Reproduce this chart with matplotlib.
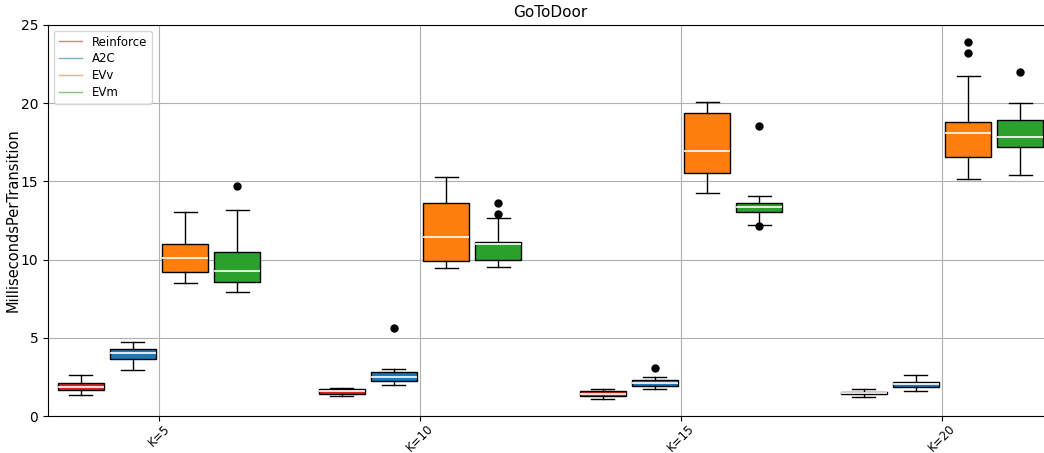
import matplotlib
matplotlib.use("Agg")
import matplotlib.pyplot as plt
from matplotlib.lines import Line2D

groups = ["K=5", "K=10", "K=15", "K=20"]
methods = ["Reinforce", "A2C", "EVv", "EVm"]
colors = ["#d62728", "#1f77b4", "#ff7f0e", "#2ca02c"]

# per method, per group: (whislo, q1, med, q3, whishi)
reinforce = [(1.34, 1.66, 1.83, 2.13, 2.60),
             (1.30, 1.43, 1.60, 1.75, 1.78),
             (1.11, 1.30, 1.43, 1.58, 1.73),
             (1.23, 1.43, 1.49, 1.55, 1.75)]
a2c = [(2.96, 3.64, 4.01, 4.28, 4.71),
       (1.96, 2.22, 2.47, 2.79, 3.02),
       (1.71, 1.90, 2.11, 2.30, 2.49),
       (1.62, 1.85, 2.03, 2.17, 2.60)]
evv = [(8.48, 9.21, 10.12, 10.98, 13.06),
       (9.44, 9.91, 11.46, 13.60, 15.30),
       (14.26, 15.54, 16.96, 19.39, 20.08),
       (15.13, 16.54, 18.11, 18.80, 21.74)]
evm = [(7.95, 8.57, 9.29, 10.47, 13.19),
       (9.55, 9.99, 10.98, 11.15, 12.66),
       (12.23, 13.02, 13.36, 13.62, 14.07),
       (15.43, 17.22, 17.86, 18.93, 19.99)]

reinforce_fliers = [[], [], [], []]
a2c_fliers = [[], [5.61], [3.07], []]
evv_fliers = [[], [], [], [23.23, 23.89]]
evm_fliers = [[14.73], [12.93, 13.62], [18.52, 12.15], [22.0]]

series = [reinforce, a2c, evv, evm]
fliers = [reinforce_fliers, a2c_fliers, evv_fliers, evm_fliers]
offsets = [-0.3, -0.1, 0.1, 0.3]
box_width = 0.176

fig = plt.figure(figsize=(10.44, 4.53), dpi=100)
ax = fig.add_axes([48 / 1044, 1 - 416 / 453, 1005 / 1044, 391 / 453])

for stats, fl, off, col in zip(series, fliers, offsets, colors):
    bstats = []
    for (lo, q1, med, q3, hi), f in zip(stats, fl):
        bstats.append(dict(whislo=lo, q1=q1, med=med, q3=q3, whishi=hi, fliers=f))
    pos = [i + 1 + off for i in range(len(groups))]
    ax.bxp(bstats, positions=pos, widths=box_width, patch_artist=True,
           showfliers=True, manage_ticks=False,
           boxprops=dict(facecolor=col, edgecolor="black", linewidth=1.0),
           medianprops=dict(color="white", linewidth=1.2),
           whiskerprops=dict(color="black", linewidth=1.0),
           capprops=dict(color="black", linewidth=1.0),
           flierprops=dict(marker="o", markerfacecolor="black",
                           markeredgecolor="black", markersize=5))

ax.set_xlim(0.575, 4.425)
ax.set_ylim(0, 25)
ax.set_xticks(range(1, len(groups) + 1))
ax.set_xticklabels(groups, rotation=45, fontsize=8.5)
ax.tick_params(axis="x", pad=1)
ax.set_yticks([0, 5, 10, 15, 20, 25])
ax.tick_params(axis="y", labelsize=10)
ax.grid(True, color="#b0b0b0", linewidth=0.8)
ax.set_axisbelow(True)
ax.set_ylabel("MillisecondsPerTransition", fontsize=10.5, labelpad=0)
ax.set_title("GoToDoor", fontsize=11)

handles = [Line2D([0], [0], color=c, linewidth=1.0, alpha=0.6) for c in colors]
ax.legend(handles, methods, loc="upper left", fontsize=8.5, labelspacing=0.32)

fig.savefig("out.png", dpi=100)
